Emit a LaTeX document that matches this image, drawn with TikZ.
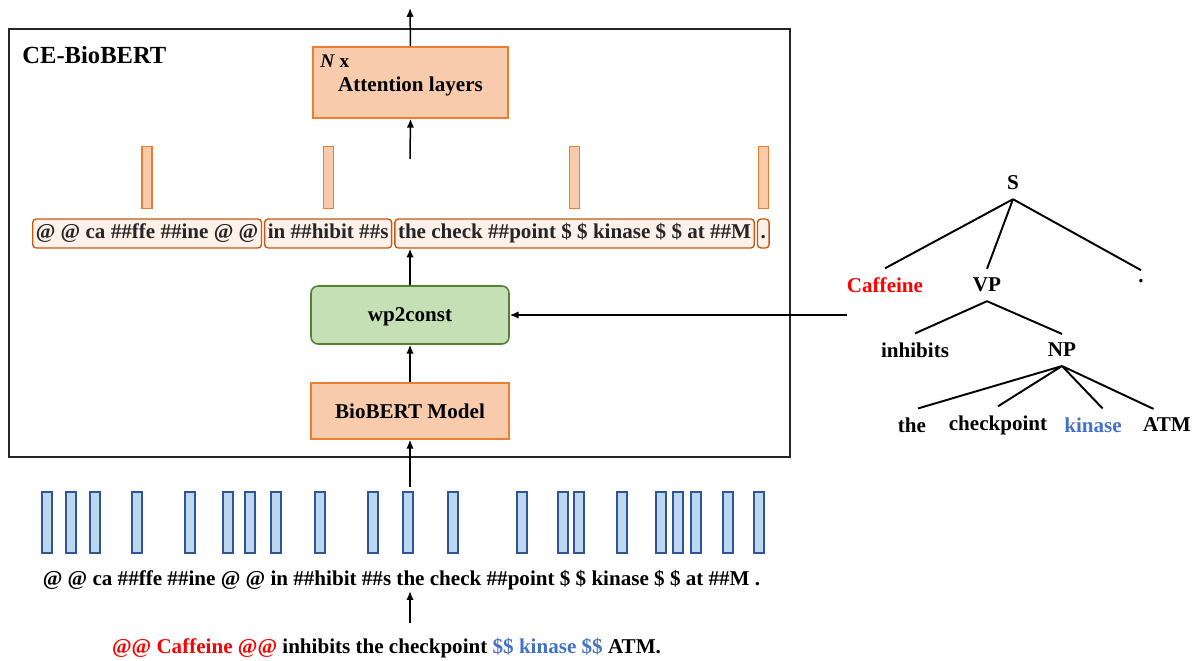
\documentclass[tikz,border=0pt]{standalone}
\usepackage{fontspec}
\setmainfont{Liberation Serif}
\usepackage{tikz}
\usetikzlibrary{arrows, arrows.meta}
\usetikzlibrary{positioning, calc}
\definecolor{orfill}{HTML}{F8CBAD}
\definecolor{ordraw}{HTML}{ED7D31}
\definecolor{tkfill}{HTML}{FDF1EA}
\definecolor{tkdraw}{HTML}{C55A11}
\definecolor{grfill}{HTML}{C5E0B4}
\definecolor{grdraw}{HTML}{548235}
\definecolor{blfill}{HTML}{BDD7EE}
\definecolor{bldraw}{HTML}{2F5597}
\definecolor{kblue}{HTML}{4472C4}
\definecolor{cred}{HTML}{FF0000}

\begin{document}
\begin{tikzpicture}[x=0.02cm, y=-0.02cm,
    every node/.style={font=\fontsize{12}{14}\selectfont\bfseries},
    arr/.style={-{Latex[length=5pt, width=4.2pt]}, line width=0.85pt},
    block/.style={draw=ordraw, fill=orfill, line width=0.9pt},
    gbox/.style={draw=grdraw, fill=grfill, line width=0.9pt, rounded corners=4pt},
    tok/.style={draw=tkdraw, fill=tkfill, rounded corners=2pt, line width=0.8pt, inner xsep=1.8pt, inner ysep=0pt, text height=8.5pt, text depth=2.8pt, minimum height=0.58cm, text=black!85},
    obar/.style={draw=ordraw, fill=orfill, line width=0.7pt, minimum width=0.2cm, minimum height=1.24cm, inner sep=0pt},
    bbar/.style={draw=bldraw, fill=blfill, line width=0.7pt, minimum width=0.2cm, minimum height=1.22cm, inner sep=0pt},
    tw/.style={inner sep=5pt},
    edge/.style={line width=1.1pt}]
  \useasboundingbox (0,0) rectangle (1198,661);

  \draw[line width=0.9pt, black!85] (9,29) rectangle (790,457);
  \node[anchor=west, inner sep=0pt, font=\fontsize{14}{16}\selectfont\bfseries] (title) at (22,55) {CE-BioBERT};

  \node[block, minimum width=3.9cm, minimum height=1.42cm, text height=10pt, text depth=0pt] (att) at (410.5,82.5) {Attention layers};
  \node[anchor=west, inner sep=0pt, font=\fontsize{11}{13}\selectfont\bfseries] (nx) at (320,61) {\textit{N} x};

  \node[tok, anchor=west] (tk1) at (32,233.5) {@ @ ca \#\#ffe \#\#ine @ @};
  \node[tok, right=1pt of tk1] (tk2) {in \#\#hibit \#\#s};
  \node[tok, right=1pt of tk2] (tk3) {the check \#\#point \$ \$ kinase \$ \$ at \#\#M};
  \node[tok, right=1pt of tk3] (tk4) {.};
  \node[obar, above=0.18cm of tk1] (o1) {};
  \node[obar, above=0.18cm of tk2] (o2) {};
  \node[obar, above=0.18cm of tk3] (o3) {};
  \node[obar, above=0.18cm of tk4] (o4) {};

  \node[gbox, minimum width=3.96cm, minimum height=1.16cm, text depth=0pt] (wp) at (410,315) {wp2const};
  \node[block, minimum width=3.96cm, minimum height=1.12cm] (bio) at (410,411) {BioBERT Model};

  \foreach \x in {47,71,95,137,190,228,250,276,320,373,408,453,522,563,579,622,661,678,696,728,759}
    \node[bbar] (b\x) at (\x,522.5) {};
  \node[inner sep=0.5pt] (toks) at (401.5,580) {@ @ ca \#\#ffe \#\#ine @ @ in \#\#hibit \#\#s the check \#\#point \$ \$ kinase \$ \$ at \#\#M .};
  \node (sent) at (386.5,648) {\textcolor{cred}{@@ Caffeine @@} inhibits the checkpoint \textcolor{kblue}{\$\$ kinase \$\$} ATM.};

  \node[tw] (S) at (1013,183) {S};
  \node[tw, text=cred] (caf) at (885,285) {Caffeine};
  \node[tw] (vp) at (987,285) {VP};
  \node[tw] (dot) at (1141,281) {.};
  \node[tw] (inh) at (915,350) {inhibits};
  \node[tw] (np) at (1062,350) {NP};
  \node[tw] (the) at (912,425) {the};
  \node[tw] (chk) at (998,425) {checkpoint};
  \node[tw, text=kblue] (kin) at (1093,425) {kinase};
  \node[tw] (atm) at (1167,425) {ATM};
  \draw[edge] (S.south) -- (caf.north) (S.south) -- (vp.north) (S.south) -- (dot.north);
  \draw[edge] (vp.south) -- (inh.north) (vp.south) -- (np.north);
  \draw[edge] (np.south) -- (the.70) (np.south) -- (chk.north) (np.south) -- (kin.60) (np.south) -- (atm.130);

  \coordinate (aout) at (410,8);
  \coordinate (ain) at (410,159);
  \coordinate (bin) at (410,487);
  \coordinate (tin) at (847,315);
  \draw[arr] (att.north) -- (aout);
  \draw[arr] (ain) -- (att.south);
  \draw[arr] (wp.north) -- (wp.north |- tk3.south);
  \draw[arr] (bio.north) -- (wp.south);
  \draw[arr] (bin) -- (bio.south);
  \draw[arr] (tin) -- (wp.east);
  \draw[arr, shorten <=4.8pt] (sent.north -| bio.south) -- (toks.south -| bio.south);
\end{tikzpicture}
\end{document}
